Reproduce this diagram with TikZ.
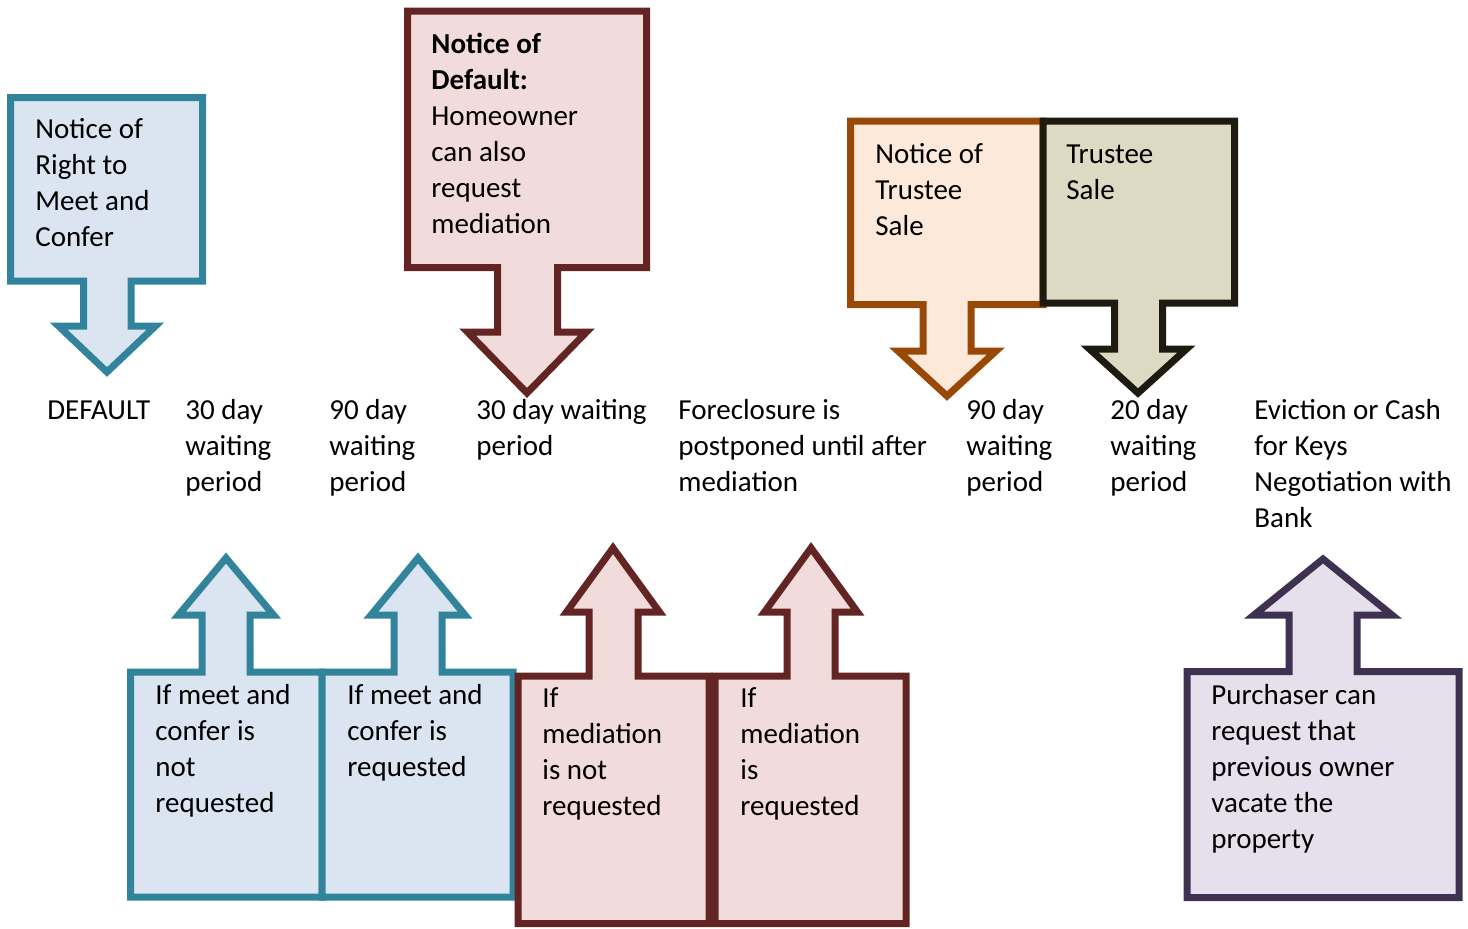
\documentclass[tikz,border=0pt]{standalone}
\usepackage{fontspec}
\setmainfont{Carlito}
\definecolor{blueS}{HTML}{31849B}
\definecolor{blueF}{HTML}{DBE5F1}
\definecolor{redS}{HTML}{632523}
\definecolor{redF}{HTML}{F2DCDB}
\definecolor{orangeS}{HTML}{984807}
\definecolor{orangeF}{HTML}{FDE9D9}
\definecolor{blackS}{HTML}{1D1B10}
\definecolor{blackF}{HTML}{DDD9C3}
\definecolor{purpleS}{HTML}{3F3151}
\definecolor{purpleF}{HTML}{E5E0EC}
\newcommand{\mlines}[1]{\begin{tabular}[t]{@{}l@{}}#1\end{tabular}}
\tikzset{
  callout/.style={line width=3.5pt, line join=miter},
  bluec/.style={callout, draw=blueS, fill=blueF},
  redc/.style={callout, draw=redS, fill=redF},
  orangec/.style={callout, draw=orangeS, fill=orangeF},
  blackc/.style={callout, draw=blackS, fill=blackF},
  purplec/.style={callout, draw=purpleS, fill=purpleF},
  txt/.style={font=\fontsize{14.5}{18}\selectfont, anchor=base west, inner sep=0pt, text=black}
}
\begin{document}
\begin{tikzpicture}[x=0.5pt, y=-0.5pt]
\useasboundingbox (0,0) rectangle (1468,928);
% top down-arrow callouts
\draw[bluec] (10.5,97.5) -- (202.5,97.5) -- (202.5,281) -- (131,281) -- (131,326) -- (155.5,326) -- (107,372) -- (58.5,326) -- (83.5,326) -- (83.5,281) -- (10.5,281) -- cycle;
\draw[redc] (407.5,11) -- (646.5,11) -- (646.5,267.5) -- (557.5,267.5) -- (557.5,332) -- (586.5,332) -- (527,393) -- (467.5,332) -- (497.5,332) -- (497.5,267.5) -- (407.5,267.5) -- cycle;
\draw[orangec] (850.5,121) -- (1043,121) -- (1043,304.5) -- (971,304.5) -- (971,351) -- (996,351) -- (947,396) -- (898,351) -- (923,351) -- (923,304.5) -- (850.5,304.5) -- cycle;
\draw[blackc] (1043,121) -- (1234.5,121) -- (1234.5,303) -- (1162.5,303) -- (1162.5,349) -- (1186.5,349) -- (1138,393) -- (1089.5,349) -- (1114.5,349) -- (1114.5,303) -- (1043,303) -- cycle;
% bottom up-arrow callouts
\draw[bluec] (130.5,897) -- (322,897) -- (322,672) -- (250,672) -- (250,615) -- (273.5,615) -- (226,558) -- (178.5,615) -- (202,615) -- (202,672) -- (130.5,672) -- cycle;
\draw[bluec] (322,897) -- (513,897) -- (513,672) -- (442,672) -- (442,615) -- (465,615) -- (418,558) -- (371,615) -- (394,615) -- (394,672) -- (322,672) -- cycle;
\draw[redc] (518,923.5) -- (709,923.5) -- (709,676) -- (638,676) -- (638,612) -- (659.5,612) -- (613,548) -- (566.5,612) -- (589,612) -- (589,676) -- (518,676) -- cycle;
\draw[redc] (715,923.5) -- (906,923.5) -- (906,676) -- (835,676) -- (835,612) -- (857.5,612) -- (811,548) -- (764.5,612) -- (787,612) -- (787,676) -- (715,676) -- cycle;
\draw[purplec] (1187,897.5) -- (1459,897.5) -- (1459,671.5) -- (1357,671.5) -- (1357,615) -- (1392,615) -- (1323,559) -- (1254,615) -- (1289,615) -- (1289,671.5) -- (1187,671.5) -- cycle;
% texts in callouts
\node[txt] (t1) at (35,138) {\mlines{Notice of\\Right to\\Meet and\\Confer}};
\node[txt] (t2) at (431,53) {\mlines{\textbf{Notice of}\\\textbf{Default:}\\Homeowner\\can also\\request\\mediation}};
\node[txt] (t3) at (875,163) {\mlines{Notice of\\Trustee\\Sale}};
\node[txt] (t4) at (1066,163) {\mlines{Trustee\\Sale}};
\node[txt] (b1) at (155,704) {\mlines{If meet and\\confer is\\not\\requested}};
\node[txt] (b2) at (347,704) {\mlines{If meet and\\confer is\\requested}};
\node[txt] (b3) at (542,707) {\mlines{If\\mediation\\is not\\requested}};
\node[txt] (b4) at (740,707) {\mlines{If\\mediation\\is\\requested}};
\node[txt] (b5) at (1211,704) {\mlines{Purchaser can\\request that\\previous owner\\vacate the\\property}};
% timeline texts
\node[txt] (m1) at (47,419) {DEFAULT};
\node[txt] (m2) at (185,419) {\mlines{30 day\\waiting\\period}};
\node[txt] (m3) at (329,419) {\mlines{90 day\\waiting\\period}};
\node[txt] (m4) at (476,419) {\mlines{30 day waiting\\period}};
\node[txt] (m5) at (678,419) {\mlines{Foreclosure is\\postponed until after\\mediation}};
\node[txt] (m6) at (966,419) {\mlines{90 day\\waiting\\period}};
\node[txt] (m7) at (1110,419) {\mlines{20 day\\waiting\\period}};
\node[txt] (m8) at (1254,419) {\mlines{Eviction or Cash\\for Keys\\Negotiation with\\Bank}};
\end{tikzpicture}
\end{document}
